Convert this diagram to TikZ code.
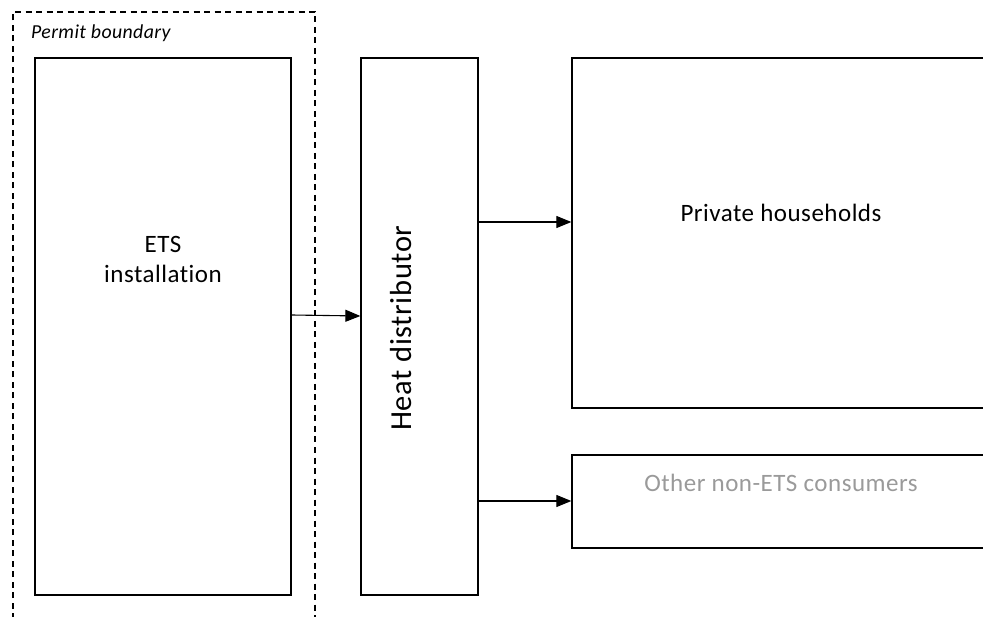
\documentclass[tikz,border=0pt]{standalone}
\usepackage{fontspec}
\setmainfont[Ligatures=NoCommon,LetterSpace=2]{Carlito}
\usetikzlibrary{arrows.meta}
\definecolor{lightgraytext}{HTML}{9A9A9A}
\begin{document}
\begin{tikzpicture}[x=1pt,y=-1pt,
  boxnode/.style={draw=black,line width=1.3pt,rectangle,inner sep=0pt},
  boundary/.style={draw=black,line width=1.3pt,dash pattern=on 6pt off 4.5pt},
  flow/.style={line width=1.1pt,-{Triangle[length=15pt,width=12pt]}},
  lbl/.style={inner sep=0pt,align=center,font=\fontsize{25}{30}\selectfont}]
\clip (0,0) rectangle (983,617);
\useasboundingbox (0,0) rectangle (983,617);
% permit boundary
\draw[boundary] (13,640) -- (13,12) -- (315,12) -- (315,640);
\node[inner sep=0pt,anchor=west,font=\fontsize{19.8}{22}\selectfont\itshape] (pb) at (31,33) {Permit boundary};
% boxes
\node[boxnode,minimum width=256pt,minimum height=537pt] (ets) at (163,326.5) {};
\node[boxnode,minimum width=117pt,minimum height=537pt] (heat) at (419.5,326.5) {};
\node[boxnode,minimum width=430pt,minimum height=350pt] (priv) at (787,233) {};
\node[boxnode,minimum width=430pt,minimum height=93pt] (other) at (787,501.5) {};
% labels
\node[lbl] (etst) at (163,259) {ETS\\installation};
\node[inner sep=0pt,rotate=90,font=\fontsize{30.5}{34}\selectfont] (heatt) at (401.5,328) {Heat distributor};
\node[lbl] (privt) at (781,213) {Private households};
\node[lbl,text=lightgraytext] (othert) at (781,483) {Other non-ETS consumers};
% connectors
\draw[flow] ([yshift=11.5pt]ets.east) -- ([yshift=10.5pt]heat.west);
\draw[flow] ([yshift=104.5pt]heat.east) -- ([yshift=104.5pt]heat.east -| priv.west);
\draw[flow] ([yshift=-174.5pt]heat.east) -- ([yshift=-174.5pt]heat.east -| other.west);
\end{tikzpicture}
\end{document}
